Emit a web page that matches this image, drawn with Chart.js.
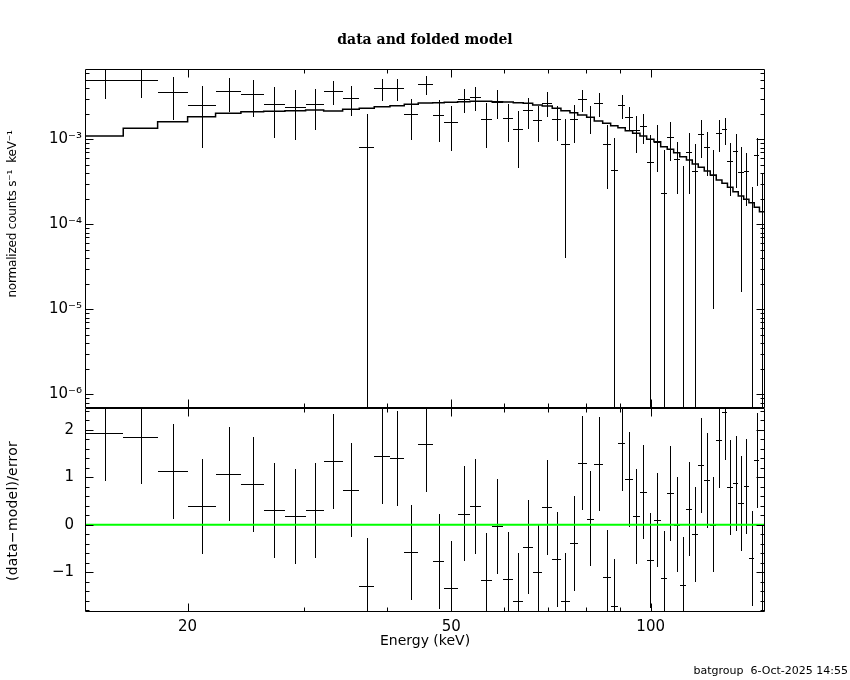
<!DOCTYPE html>
<html><head><meta charset="utf-8">
<script src="https://cdn.jsdelivr.net/npm/chart.js@4.4.1/dist/chart.umd.min.js"></script>
<style>
html,body{margin:0;padding:0;background:#fff;}
#wrap{position:relative;width:850px;height:680px;overflow:hidden;background:#fff;}
canvas{position:absolute;left:0;top:0;}
.txt{position:absolute;color:#000;white-space:pre;line-height:16px;}
#title{left:0;width:850px;top:31px;text-align:center;font:bold 14px "DejaVu Serif",serif;}
.ytitle{font-family:"DejaVu Sans",sans-serif;transform:translate(-50%,-50%) rotate(-90deg);}
#foot{right:2px;top:664px;font:11px "DejaVu Sans",sans-serif;}
</style></head><body>
<div id="wrap">
<canvas id="topc" width="850" height="680"></canvas>
<canvas id="botc" width="850" height="680"></canvas>
<div class="txt" id="title">data and folded model</div>
<div class="txt ytitle" style="left:12px;top:214px;font-size:12px;letter-spacing:-0.2px;">normalized counts s⁻¹  keV⁻¹</div>
<div class="txt ytitle" style="left:12px;top:511px;font-size:14px;letter-spacing:0.2px;">(data−model)/error</div>
<div class="txt" id="foot">batgroup  6-Oct-2025 14:55</div>
</div>
<script>
// ---- data ----
const energyEdges = [14.0,15.99,18.02,20.0,22.04,24.07,26.05,28.05,30.14,32.09,34.28,36.32,38.26,40.41,42.47,44.58,46.87,48.80,51.12,53.36,55.43,57.54,59.78,62.03,64.22,66.36,68.61,71.03,73.21,75.54,77.59,80.06,82.20,84.64,87.02,89.25,91.55,93.93,96.35,98.62,101.15,103.54,105.93,108.32,110.65,113.25,115.56,118.0,120.48,123.02,125.61,128.12,130.6,133.12,135.6,138.17,140.72,143.34,145.95,148.8];
const fluxData = [4.98e-3,4.98e-3,3.57e-3,2.51e-3,3.68e-3,3.41e-3,2.60e-3,2.39e-3,2.59e-3,3.70e-3,3.05e-3,8.05e-4,3.98e-3,3.98e-3,1.97e-3,4.45e-3,1.92e-3,1.59e-3,2.96e-3,3.12e-3,1.72e-3,2.77e-3,1.76e-3,1.31e-3,2.19e-3,1.70e-3,2.69e-3,1.72e-3,8.8e-4,1.72e-3,2.96e-3,1.815e-3,2.65e-3,8.73e-4,4.35e-4,2.53e-3,1.815e-3,1.286e-3,1.434e-3,5.45e-4,9.37e-4,2.32e-4,1.073e-3,5.8e-4,-3e-5,7.09e-4,4.27e-4,1.145e-3,8.05e-4,3.8e-4,1.196e-3,1.311e-3,5.56e-4,7.2e-4,4.16e-4,4.24e-4,-5.9e-5,6.53e-4,1.0e-4];
const fluxErr = [2.03e-3,1.95e-3,1.88e-3,1.72e-3,1.60e-3,1.57e-3,1.56e-3,1.40e-3,1.32e-3,1.14e-3,1.17e-3,1.18e-3,1.14e-3,1.14e-3,1.00e-3,1.17e-3,0.99e-3,0.87e-3,0.94e-3,0.97e-3,0.93e-3,1.03e-3,0.84e-3,0.845e-3,0.86e-3,0.78e-3,0.88e-3,0.77e-3,8.4e-4,0.81e-3,0.85e-3,0.65e-3,0.82e-3,0.61e-3,0.59e-3,0.79e-3,0.56e-3,0.59e-3,0.55e-3,0.58e-3,0.53e-3,0.52e-3,0.51e-3,0.35e-3,5.15e-4,0.48e-3,0.45e-3,0.54e-3,0.43e-3,0.37e-3,0.49e-3,0.46e-3,0.34e-3,0.45e-3,0.40e-3,0.26e-3,3.36e-4,0.37e-3,2.98e-4];
const modelFlux = [1.094e-3,1.346e-3,1.612e-3,1.845e-3,2.022e-3,2.113e-3,2.136e-3,2.17e-3,2.212e-3,2.153e-3,2.254e-3,2.316e-3,2.418e-3,2.485e-3,2.58e-3,2.674e-3,2.696e-3,2.725e-3,2.77e-3,2.80e-3,2.80e-3,2.77e-3,2.747e-3,2.696e-3,2.652e-3,2.532e-3,2.465e-3,2.316e-3,2.17e-3,2.056e-3,1.931e-3,1.815e-3,1.642e-3,1.542e-3,1.445e-3,1.369e-3,1.262e-3,1.177e-3,1.094e-3,1.0e-3,9.37e-4,8.18e-4,7.63e-4,6.96e-4,6.24e-4,5.71e-4,5.12e-4,4.68e-4,4.24e-4,3.80e-4,3.32e-4,3.04e-4,2.72e-4,2.42e-4,2.15e-4,1.968e-4,1.795e-4,1.585e-4,1.406e-4];
const residuals = [1.93,1.86,1.13,0.39,1.07,0.85,0.30,0.18,0.30,1.34,0.73,-1.29,1.44,1.40,-0.58,1.70,-0.77,-1.34,0.23,0.39,-1.17,-0.03,-1.15,-1.60,-0.47,-1.00,0.37,-0.73,-1.60,-0.39,1.30,0.13,1.28,-1.11,-1.72,1.72,0.96,0.18,0.69,-0.75,0.10,-1.13,0.66,0.00,-1.27,0.33,-0.20,1.25,0.94,0.00,1.78,2.37,0.79,0.87,0.45,0.81,-0.71,1.36,-1.00];
const residErr = 1; // residual error bars are +-1 sigma

// ---- axes / tick labels ----
const xMin = 14.0, xMax = 148.8;
const topYMin = 6.90e-7, topYMax = 6.715e-3;
const resYMin = -1.842, resYMax = 2.462;
const xTickValues = [20, 50, 100];
const xTickLabels = ['20', '50', '100'];
const xMinorTicks = [30, 40, 60, 70, 80, 90];
const topYTicks = [1e-6, 1e-5, 1e-4, 1e-3];
const topYLabels = ['10\u207B\u2076', '10\u207B\u2075', '10\u207B\u2074', '10\u207B\u00B3'];
const resYTicks = [-1, 0, 1, 2];
const resYLabels = ['\u22121', '0', '1', '2'];

const centers = fluxData.map((_, i) => (energyEdges[i] + energyEdges[i + 1]) / 2);
const modelPts = energyEdges.map((e, i) => ({x: e, y: modelFlux[Math.min(i, modelFlux.length - 1)]}));
const dataPts = centers.map((c, i) => ({x: c, y: fluxData[i]}));
const resPts = centers.map((c, i) => ({x: c, y: residuals[i]}));

function drawCrosses(chart, vals, errs) {
  const {ctx, chartArea: a} = chart;
  const xs = chart.scales.x, ys = chart.scales.y;
  const isLog = ys.type === 'logarithmic';
  ctx.save();
  ctx.beginPath(); ctx.rect(a.left, a.top, a.right - a.left, a.bottom - a.top); ctx.clip();
  ctx.strokeStyle = '#000'; ctx.lineWidth = 1;
  ctx.beginPath();
  for (let i = 0; i < vals.length; i++) {
    const lo = energyEdges[i], hi = energyEdges[i + 1], v = vals[i];
    const e = Array.isArray(errs) ? errs[i] : errs;
    const xc = Math.round(xs.getPixelForValue((lo + hi) / 2)) + 0.5;
    const up = v + e, dn = v - e;
    const yUp = (!isLog || up > 0) ? ys.getPixelForValue(up) : a.bottom + 10;
    const yDn = (!isLog || dn > 0) ? ys.getPixelForValue(dn) : a.bottom + 10;
    ctx.moveTo(xc, Math.round(yUp)); ctx.lineTo(xc, Math.round(yDn));
    if (!isLog || v > 0) {
      const yc = Math.round(ys.getPixelForValue(v)) + 0.5;
      ctx.moveTo(Math.round(xs.getPixelForValue(lo)), yc);
      ctx.lineTo(Math.round(xs.getPixelForValue(hi)), yc);
    }
  }
  ctx.stroke();
  ctx.restore();
}

function drawFrame(chart, yMajor, yMinor) {
  const {ctx, chartArea: a} = chart;
  const xs = chart.scales.x, ys = chart.scales.y;
  const L = Math.round(a.left) + 0.5, R = Math.round(a.right) - 0.5;
  const T = Math.round(a.top) + 0.5, B = Math.round(a.bottom) - 0.5;
  ctx.save();
  ctx.strokeStyle = '#000'; ctx.lineWidth = 1;
  ctx.beginPath();
  ctx.moveTo(L, T); ctx.lineTo(R, T); ctx.lineTo(R, B); ctx.lineTo(L, B); ctx.closePath();
  const xt = (v, len) => {
    const p = Math.round(xs.getPixelForValue(v)) + 0.5;
    ctx.moveTo(p, T); ctx.lineTo(p, T + len);
    ctx.moveTo(p, B); ctx.lineTo(p, B - len);
  };
  const yt = (v, len) => {
    const p = Math.round(ys.getPixelForValue(v)) + 0.5;
    if (p < T - 0.1 || p > B + 0.1) return;
    ctx.moveTo(L, p); ctx.lineTo(L + len, p);
    ctx.moveTo(R, p); ctx.lineTo(R - len, p);
  };
  xTickValues.forEach(v => xt(v, 8));
  xMinorTicks.forEach(v => xt(v, 4));
  yMajor.forEach(v => yt(v, 8));
  yMinor.forEach(v => yt(v, 4));
  ctx.stroke();
  ctx.restore();
}

const topMinor = [];
for (let d = -7; d <= -3; d++) for (let k = 2; k <= 9; k++) {
  const v = k * Math.pow(10, d);
  if (v > topYMin && v < topYMax) topMinor.push(v);
}
const resMinor = [];
for (let k = -9; k <= 12; k++) { if (k % 5 !== 0) resMinor.push(k * 0.2); }

const tickFont = {family: 'DejaVu Sans', size: 15};

new Chart(document.getElementById('topc'), {
  type: 'line',
  data: {datasets: [
    {label: 'folded model', data: modelPts, stepped: true, borderColor: '#000', borderWidth: 1.5, pointRadius: 0, fill: false},
    {label: 'data', data: dataPts, showLine: false, pointRadius: 0, borderColor: '#000'}
  ]},
  options: {
    responsive: false, animation: false, devicePixelRatio: 1,
    layout: {padding: {left: 0, right: 85, top: 69, bottom: 272}},
    plugins: {legend: {display: false}, tooltip: {enabled: false}},
    scales: {
      x: {type: 'logarithmic', min: xMin, max: xMax, display: false},
      y: {type: 'logarithmic', min: topYMin, max: topYMax,
          afterFit(s) { s.width = 85; },
          afterBuildTicks(s) { s.ticks = topYTicks.map(v => ({value: v})); },
          grid: {display: false, drawTicks: false}, border: {display: false},
          ticks: {padding: 3, color: '#000', font: tickFont, autoSkip: false, callback: (v, i) => topYLabels[i]}}
    }
  },
  plugins: [{
    id: 'topDraw',
    beforeDatasetsDraw(chart) { drawCrosses(chart, fluxData, fluxErr); },
    afterDraw(chart) { drawFrame(chart, topYTicks, topMinor); }
  }]
});

new Chart(document.getElementById('botc'), {
  type: 'line',
  data: {datasets: [
    {label: 'zero', data: [{x: xMin, y: 0}, {x: xMax, y: 0}], borderColor: '#00ff00', borderWidth: 2, pointRadius: 0, fill: false},
    {label: 'residuals', data: resPts, showLine: false, pointRadius: 0, borderColor: '#000'}
  ]},
  options: {
    responsive: false, animation: false, devicePixelRatio: 1,
    layout: {padding: {left: 0, right: 85, top: 408, bottom: 0}},
    plugins: {legend: {display: false}, tooltip: {enabled: false}},
    scales: {
      x: {type: 'logarithmic', min: xMin, max: xMax,
          afterFit(s) { s.height = 68; },
          afterBuildTicks(s) { s.ticks = xTickValues.map(v => ({value: v})); },
          grid: {display: false, drawTicks: false}, border: {display: false},
          ticks: {padding: 6, color: '#000', font: tickFont, autoSkip: false, maxRotation: 0, minRotation: 0, callback: (v, i) => xTickLabels[i]},
          title: {display: true, text: 'Energy (keV)', color: '#000', font: {family: 'DejaVu Sans', size: 14}, padding: {top: 0, bottom: 30}}},
      y: {type: 'linear', min: resYMin, max: resYMax,
          afterFit(s) { s.width = 85; },
          afterBuildTicks(s) { s.ticks = resYTicks.map(v => ({value: v})); },
          grid: {display: false, drawTicks: false}, border: {display: false},
          ticks: {padding: 11, color: '#000', font: tickFont, autoSkip: false, callback: (v, i) => resYLabels[i]}}
    }
  },
  plugins: [{
    id: 'botDraw',
    beforeDatasetsDraw(chart) { drawCrosses(chart, residuals, residErr); },
    afterDraw(chart) { drawFrame(chart, resYTicks, resMinor); }
  }]
});
</script>
</body></html>
